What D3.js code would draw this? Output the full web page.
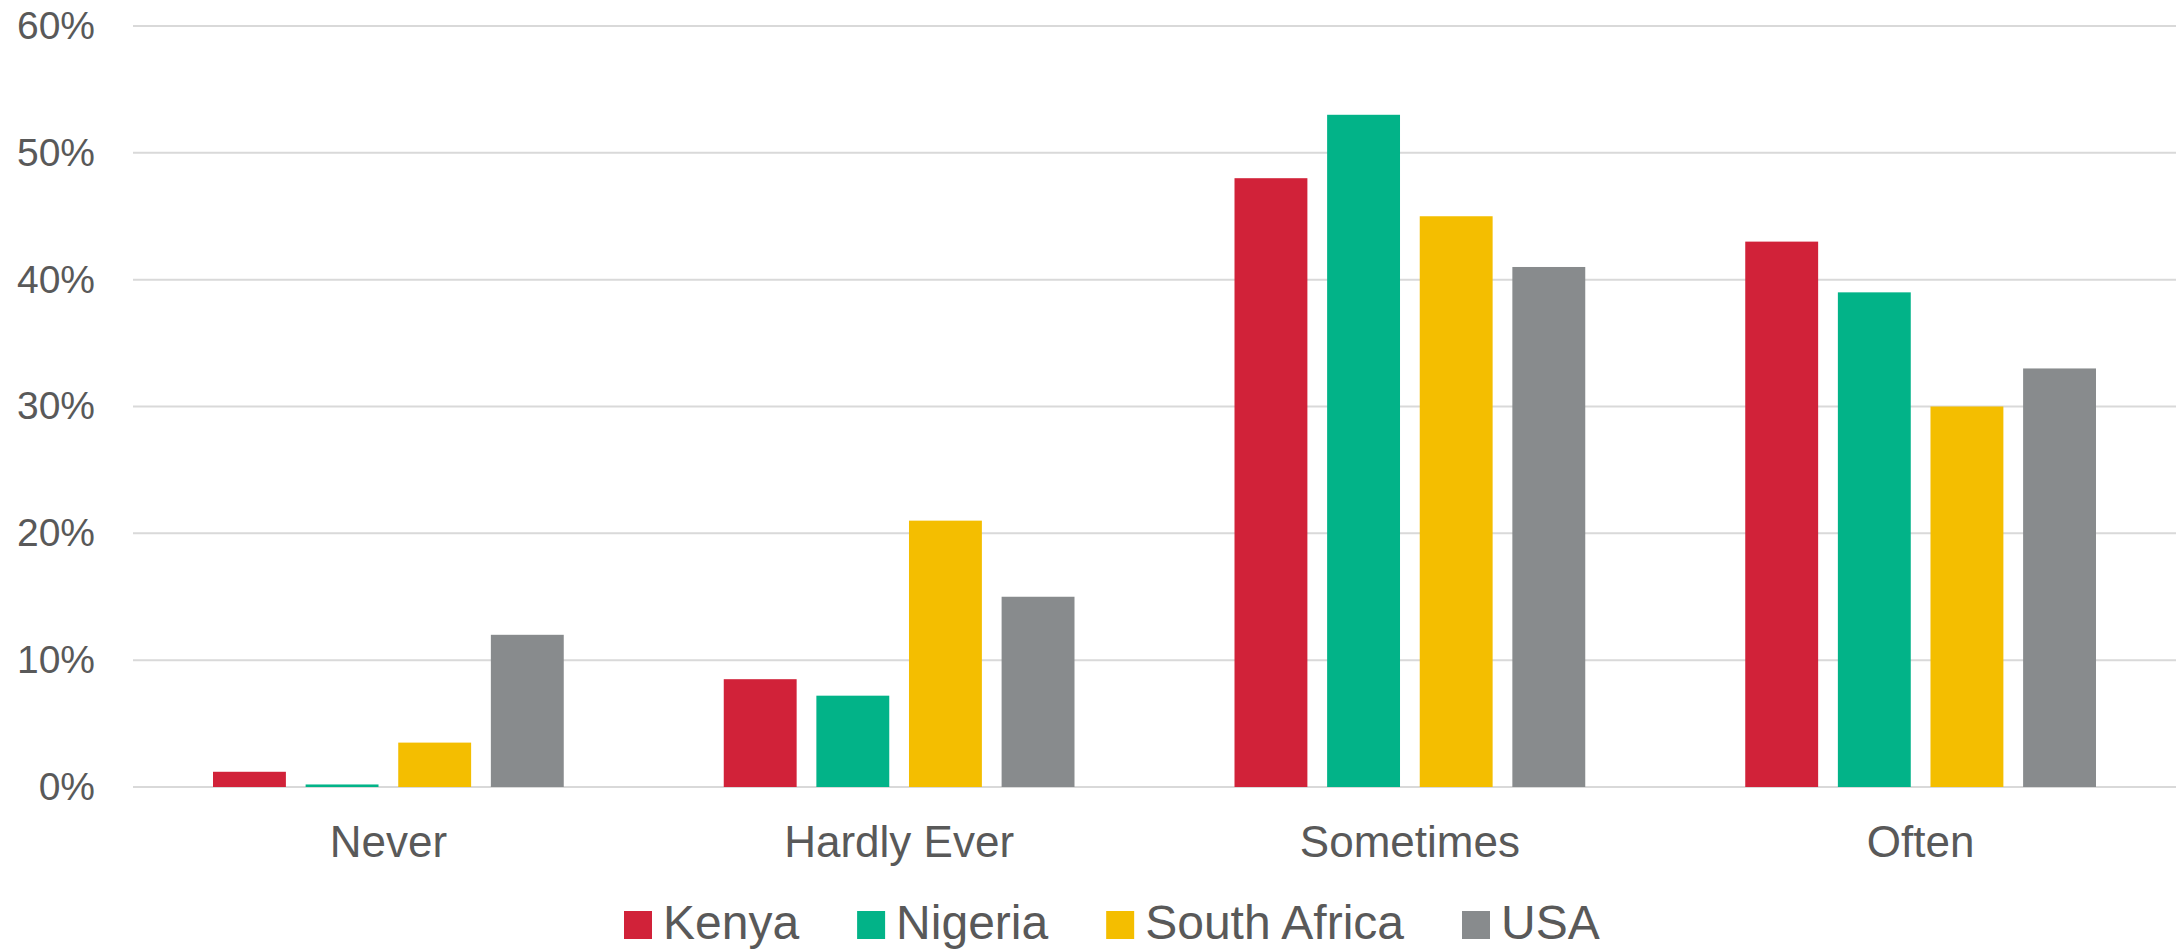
<!DOCTYPE html>
<html>
<head>
<meta charset="utf-8">
<script src="https://cdn.jsdelivr.net/npm/d3@7"></script>
<style>
  html, body { margin: 0; padding: 0; background: #fff; }
  svg { display: block; }
</style>
</head>
<body>
<svg id="chart" width="2178" height="950"></svg>
<script>
const categories = ["Never", "Hardly Ever", "Sometimes", "Often"];
const seriesNames = ["Kenya", "Nigeria", "South Africa", "USA"];
const kenya = [1.2, 8.5, 48, 43];
const nigeria = [0.2, 7.2, 53, 39];
const southAfrica = [3.5, 21, 45, 30];
const usa = [12, 15, 41, 33];
const yTicks = [0, 10, 20, 30, 40, 50, 60];
const colors = ["#D12239", "#02B388", "#F4BE00", "#888B8D"];

(function () {
const seriesValues = [kenya, nigeria, southAfrica, usa];
const data = categories.map((c, i) => ({
  category: c,
  values: seriesNames.map((s, j) => ({ series: s, value: seriesValues[j][i] }))
}));

const svg = d3.select("#chart");
const mLeft = 133, mRight = 2176, mTop = 26, mBottom = 787;

const x0 = d3.scaleBand().domain(categories).range([mLeft, mRight]).paddingInner(0).paddingOuter(0);
const x1 = d3.scaleBand().domain(seriesNames).range([80, x0.bandwidth() - 80]).paddingInner(0.213).paddingOuter(0);
const y = d3.scaleLinear().domain([0, 60]).range([mBottom, mTop]);
const color = d3.scaleOrdinal().domain(seriesNames).range(colors);

// gridlines
svg.append("g")
  .selectAll("line")
  .data(yTicks)
  .join("line")
  .attr("x1", mLeft).attr("x2", mRight)
  .attr("y1", d => y(d)).attr("y2", d => y(d))
  .attr("stroke", "#d9d9d9").attr("stroke-width", 2);

// y axis labels
const yAxis = d3.axisLeft(y).tickValues(yTicks).tickFormat(d => d + "%").tickSize(0).tickPadding(0);
const yg = svg.append("g").attr("transform", `translate(95,0)`).call(yAxis);
yg.select(".domain").remove();
yg.selectAll("text")
  .attr("font-family", "'Liberation Sans', Arial, sans-serif")
  .attr("font-size", 39)
  .attr("fill", "#595959")
  .attr("dy", "0.32em");

// bars
svg.append("g")
  .selectAll("g")
  .data(data)
  .join("g")
  .attr("transform", d => `translate(${x0(d.category)},0)`)
  .selectAll("rect")
  .data(d => d.values)
  .join("rect")
  .attr("x", d => x1(d.series))
  .attr("width", x1.bandwidth())
  .attr("y", d => y(d.value))
  .attr("height", d => y(0) - y(d.value))
  .attr("fill", d => color(d.series));

// x axis labels
const xAxis = d3.axisBottom(x0).tickSize(0).tickPadding(0);
const xg = svg.append("g").attr("transform", `translate(0,${mBottom})`).call(xAxis);
xg.select(".domain").remove();
xg.selectAll("text")
  .attr("font-family", "'Liberation Sans', Arial, sans-serif")
  .attr("font-size", 44)
  .attr("fill", "#595959")
  .attr("dy", null)
  .attr("y", 70);

// legend
const legend = svg.append("g").attr("transform", "translate(624,0)");
let cx = 0;
seriesNames.forEach((s, i) => {
  const g = legend.append("g").attr("transform", `translate(${cx},0)`);
  g.append("rect").attr("x", 0).attr("y", 911).attr("width", 28).attr("height", 28).attr("fill", colors[i]);
  const t = g.append("text")
    .attr("x", 39).attr("y", 939)
    .attr("font-family", "'Liberation Sans', Arial, sans-serif")
    .attr("font-size", 48)
    .attr("fill", "#595959")
    .text(s);
  const w = t.node().getComputedTextLength();
  cx += 39 + w + 58;
});
})();
</script>
</body>
</html>
